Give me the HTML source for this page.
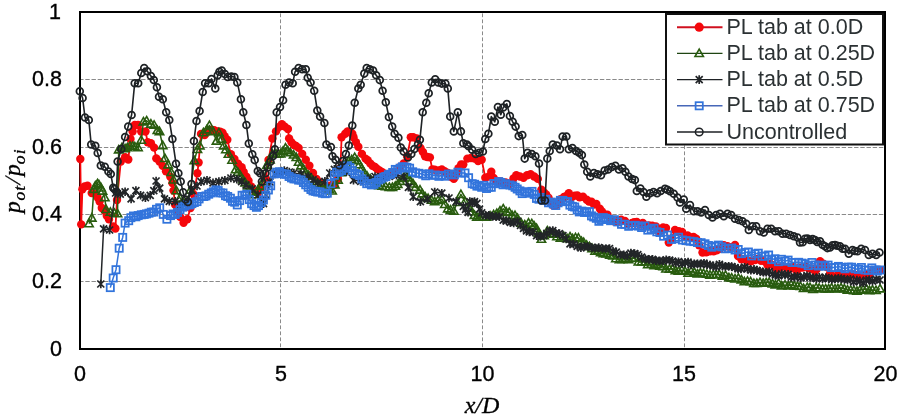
<!DOCTYPE html>
<html><head><meta charset="utf-8"><title>Chart</title>
<style>html,body{margin:0;padding:0;background:#fff;width:900px;height:419px;overflow:hidden}svg{display:block}</style>
</head><body>
<svg width="900" height="419" viewBox="0 0 900 419">
<defs>
<circle id="mr" r="4.2" fill="#f5070b"/>
<path id="mg" d="M0,-4.3L4.2,3.1H-4.2Z" fill="none" stroke="#295c0f" stroke-width="1.6" stroke-linejoin="miter"/>
<path id="ms" d="M-3.5,-3.5L3.5,3.5M-3.5,3.5L3.5,-3.5M0,-4.3V4.3" fill="none" stroke="#222528" stroke-width="1.7"/>
<rect id="mb" x="-3.6" y="-3.6" width="7.2" height="7.2" fill="none" stroke="#3274dc" stroke-width="1.75"/>
<circle id="mu" r="3.4" fill="none" stroke="#1e2225" stroke-width="1.75"/>
</defs>
<rect width="900" height="419" fill="#fff"/>
<g stroke="#8a8a8a" stroke-width="1"><line x1="81" y1="79.5" x2="884" y2="79.5" stroke-dasharray="4.4 1.8" stroke-dashoffset="1.9"/><line x1="81" y1="147.5" x2="884" y2="147.5" stroke-dasharray="4.4 1.8" stroke-dashoffset="1.9"/><line x1="81" y1="214.5" x2="884" y2="214.5" stroke-dasharray="4.4 1.8" stroke-dashoffset="1.9"/><line x1="81" y1="281.5" x2="884" y2="281.5" stroke-dasharray="4.4 1.8" stroke-dashoffset="1.9"/><line x1="280.5" y1="13.4" x2="280.5" y2="348" stroke-dasharray="3.8 2.2"/><line x1="482.5" y1="13.4" x2="482.5" y2="348" stroke-dasharray="3.8 2.2"/><line x1="684.5" y1="13.4" x2="684.5" y2="348" stroke-dasharray="3.8 2.2"/></g>
<rect x="80" y="12" width="805" height="337" fill="none" stroke="#000" stroke-width="2"/>
<g><g><polyline points="80.3,159 81.2,224.4 82.4,189.3 84.6,186.5 87.5,185.7 91.7,193 94.6,193.6 97.5,197.2 99.6,201.5 101.8,208 104.7,210.8 106.8,215.8 109,219.4 113.2,226.5 115.4,228.5 117,200 120.8,161.6 125.1,157.2 128.3,159.5 130.5,139 132.6,131.5 134.8,125 138,125 141.2,131.5 145.5,131.5 147.7,142.3 150.9,143.3 154.1,147.6 156.3,158.4 159.5,161.6 162.7,165.9 166,171.3 170.3,176.7 172.4,183.1 173.5,190.6 175.2,204.9 177.5,210.2 180,216.8 183.6,222.8 187.2,219.2 190.5,208 193.9,194.7 197.4,173.2 198.6,162.5 201,133.9 204.6,135.1 208.2,131.5 211.3,130 214.2,130.3 217.7,131.5 220.1,131.8 222.5,132.7 224.6,136.3 227.3,139.8 230.9,154.2 234.4,158.9 238,163.7 241.6,167.3 243.7,171.9 246.4,176.8 248.5,180.8 251.1,186.4 254.7,191.1 258.3,192.3 262,188 265.9,178.6 268.5,160 272.4,138.5 276,131.4 279.5,126.6 281.9,124.2 284.8,126.6 287.9,129 289.1,138.4 291.5,142.4 293.9,145 296,145.9 298.6,147.9 302.2,153.9 305.8,159.8 309.4,165.8 313,173 316.5,178.9 320.1,182.5 322.6,185.1 325,186 327.4,185.8 329.7,186.1 332.3,184.6 334.4,184.9 338,178.9 340.4,168.2 341.6,137.2 345.2,133.8 347.6,131.4 350.2,132.2 352.3,133.8 353.5,137.3 355.9,142.1 358.3,146.7 361.9,153.9 365.5,158.6 367.6,160.2 370.2,163.4 372.5,165.8 375,167 377.2,169 379.8,170.6 382.3,172.1 384.6,174.2 389,175 392.5,172.6 396,172 399.6,167.1 403.7,163.4 407.2,156.3 410.8,137.2 413.2,137.3 416.8,138.5 420.4,148 422.9,152 425.1,156.3 427.4,157 429.9,157.4 432.3,169.4 434.7,169.6 437.1,170.6 439.6,170.4 441.8,169.4 444.6,171.3 447.8,173 450.8,176.7 453.8,178.9 456.3,173.1 458.5,168.2 461.2,164.4 463.3,164.6 467.4,158.6 471,158 474.5,158.6 478.1,161 481.7,159.8 485.3,177.7 488.9,176.5 491.3,171.8 493.6,177.9 496,181.3 498.2,181.3 500.8,181.5 502.9,182.9 505.6,182.5 508.1,183.5 510.3,183.7 513.5,178.5 516.3,175.3 519.9,176.5 523.5,177.7 527.1,175.3 530.6,174.2 534.2,176.5 537.8,178.9 541.4,189.7 543.9,192.5 546.1,194.4 548.5,197.8 550.9,201.6 553.5,205.7 555.7,205.2 558.1,203.1 560.5,199.2 564,197 566.1,196.1 568.8,193.2 571.9,197 574.8,195.6 577.4,195.4 579.6,197.4 583,196.8 586.7,199.8 589,201.6 591.5,201.6 593.9,204.5 596.3,204 599.8,208.8 601.9,211.5 604.6,214.5 607.4,214.8 610.6,219 613.9,221.4 617.7,221 621.1,219.7 624.9,221 628.4,223.9 632.1,223 634.2,222.2 636.8,222 639.8,224.5 642.8,223 646,226.1 648.8,225.5 652.2,225.6 655.9,226.5 659,232 663.1,227.5 666,228 668.8,242.5 671.8,238.2 675,230 678.8,231.2 682.1,231.9 685,236.2 687.6,235.5 690.5,237.4 693.5,236.9 696.2,238.8 699.1,245.2 702.5,252.5 706.2,252.2 710,251.2 713.6,251.4 716.7,250.2 720,248.8 723.9,245.2 727.5,246.2 731.5,247.1 735,245 738,256 741.4,259.3 744.3,259 747.5,261.2 751,261.3 755,260 757.9,259 761.1,260.7 764.3,261.4 767.5,265 770.3,263.8 773.5,265.5 776.6,268.8 780,267.5 783.4,266.1 786.5,267.5 790,268.8 793,266.5 796.5,270.7 799.4,267.7 802.5,267.5 805.4,266.4 808.7,268.2 812.1,268.6 815,271.2 817.2,268.6 820,261.2 823.4,263.6 826.7,267.1 830,273.8 833.4,276.7 836.9,275.6 840,275 842.9,274.3 845.8,276.4 849,276.5 851.9,273.6 855,275 858.2,277.3 861.2,276.1 864.2,275.5 866.8,274.1 870,273.8 873.2,270.1 876.4,270.1 880,270" fill="none" stroke="#f5070b" stroke-width="1.8" stroke-linejoin="round"/><use href="#mr" x="80.3" y="159"/><use href="#mr" x="81.2" y="224.4"/><use href="#mr" x="82.4" y="189.3"/><use href="#mr" x="84.6" y="186.5"/><use href="#mr" x="87.5" y="185.7"/><use href="#mr" x="91.7" y="193"/><use href="#mr" x="94.6" y="193.6"/><use href="#mr" x="97.5" y="197.2"/><use href="#mr" x="99.6" y="201.5"/><use href="#mr" x="101.8" y="208"/><use href="#mr" x="104.7" y="210.8"/><use href="#mr" x="106.8" y="215.8"/><use href="#mr" x="109" y="219.4"/><use href="#mr" x="113.2" y="226.5"/><use href="#mr" x="115.4" y="228.5"/><use href="#mr" x="117" y="200"/><use href="#mr" x="120.8" y="161.6"/><use href="#mr" x="125.1" y="157.2"/><use href="#mr" x="128.3" y="159.5"/><use href="#mr" x="130.5" y="139"/><use href="#mr" x="132.6" y="131.5"/><use href="#mr" x="134.8" y="125"/><use href="#mr" x="138" y="125"/><use href="#mr" x="141.2" y="131.5"/><use href="#mr" x="145.5" y="131.5"/><use href="#mr" x="147.7" y="142.3"/><use href="#mr" x="150.9" y="143.3"/><use href="#mr" x="154.1" y="147.6"/><use href="#mr" x="156.3" y="158.4"/><use href="#mr" x="159.5" y="161.6"/><use href="#mr" x="162.7" y="165.9"/><use href="#mr" x="166" y="171.3"/><use href="#mr" x="170.3" y="176.7"/><use href="#mr" x="172.4" y="183.1"/><use href="#mr" x="173.5" y="190.6"/><use href="#mr" x="175.2" y="204.9"/><use href="#mr" x="177.5" y="210.2"/><use href="#mr" x="180" y="216.8"/><use href="#mr" x="183.6" y="222.8"/><use href="#mr" x="187.2" y="219.2"/><use href="#mr" x="190.5" y="208"/><use href="#mr" x="193.9" y="194.7"/><use href="#mr" x="197.4" y="173.2"/><use href="#mr" x="198.6" y="162.5"/><use href="#mr" x="201" y="133.9"/><use href="#mr" x="204.6" y="135.1"/><use href="#mr" x="208.2" y="131.5"/><use href="#mr" x="211.3" y="130"/><use href="#mr" x="214.2" y="130.3"/><use href="#mr" x="217.7" y="131.5"/><use href="#mr" x="220.1" y="131.8"/><use href="#mr" x="222.5" y="132.7"/><use href="#mr" x="224.6" y="136.3"/><use href="#mr" x="227.3" y="139.8"/><use href="#mr" x="230.9" y="154.2"/><use href="#mr" x="234.4" y="158.9"/><use href="#mr" x="238" y="163.7"/><use href="#mr" x="241.6" y="167.3"/><use href="#mr" x="243.7" y="171.9"/><use href="#mr" x="246.4" y="176.8"/><use href="#mr" x="248.5" y="180.8"/><use href="#mr" x="251.1" y="186.4"/><use href="#mr" x="254.7" y="191.1"/><use href="#mr" x="258.3" y="192.3"/><use href="#mr" x="262" y="188"/><use href="#mr" x="265.9" y="178.6"/><use href="#mr" x="268.5" y="160"/><use href="#mr" x="272.4" y="138.5"/><use href="#mr" x="276" y="131.4"/><use href="#mr" x="279.5" y="126.6"/><use href="#mr" x="281.9" y="124.2"/><use href="#mr" x="284.8" y="126.6"/><use href="#mr" x="287.9" y="129"/><use href="#mr" x="289.1" y="138.4"/><use href="#mr" x="291.5" y="142.4"/><use href="#mr" x="293.9" y="145"/><use href="#mr" x="296" y="145.9"/><use href="#mr" x="298.6" y="147.9"/><use href="#mr" x="302.2" y="153.9"/><use href="#mr" x="305.8" y="159.8"/><use href="#mr" x="309.4" y="165.8"/><use href="#mr" x="313" y="173"/><use href="#mr" x="316.5" y="178.9"/><use href="#mr" x="320.1" y="182.5"/><use href="#mr" x="322.6" y="185.1"/><use href="#mr" x="325" y="186"/><use href="#mr" x="327.4" y="185.8"/><use href="#mr" x="329.7" y="186.1"/><use href="#mr" x="332.3" y="184.6"/><use href="#mr" x="334.4" y="184.9"/><use href="#mr" x="338" y="178.9"/><use href="#mr" x="340.4" y="168.2"/><use href="#mr" x="341.6" y="137.2"/><use href="#mr" x="345.2" y="133.8"/><use href="#mr" x="347.6" y="131.4"/><use href="#mr" x="350.2" y="132.2"/><use href="#mr" x="352.3" y="133.8"/><use href="#mr" x="353.5" y="137.3"/><use href="#mr" x="355.9" y="142.1"/><use href="#mr" x="358.3" y="146.7"/><use href="#mr" x="361.9" y="153.9"/><use href="#mr" x="365.5" y="158.6"/><use href="#mr" x="367.6" y="160.2"/><use href="#mr" x="370.2" y="163.4"/><use href="#mr" x="372.5" y="165.8"/><use href="#mr" x="375" y="167"/><use href="#mr" x="377.2" y="169"/><use href="#mr" x="379.8" y="170.6"/><use href="#mr" x="382.3" y="172.1"/><use href="#mr" x="384.6" y="174.2"/><use href="#mr" x="389" y="175"/><use href="#mr" x="392.5" y="172.6"/><use href="#mr" x="396" y="172"/><use href="#mr" x="399.6" y="167.1"/><use href="#mr" x="403.7" y="163.4"/><use href="#mr" x="407.2" y="156.3"/><use href="#mr" x="410.8" y="137.2"/><use href="#mr" x="413.2" y="137.3"/><use href="#mr" x="416.8" y="138.5"/><use href="#mr" x="420.4" y="148"/><use href="#mr" x="422.9" y="152"/><use href="#mr" x="425.1" y="156.3"/><use href="#mr" x="427.4" y="157"/><use href="#mr" x="429.9" y="157.4"/><use href="#mr" x="432.3" y="169.4"/><use href="#mr" x="434.7" y="169.6"/><use href="#mr" x="437.1" y="170.6"/><use href="#mr" x="439.6" y="170.4"/><use href="#mr" x="441.8" y="169.4"/><use href="#mr" x="444.6" y="171.3"/><use href="#mr" x="447.8" y="173"/><use href="#mr" x="450.8" y="176.7"/><use href="#mr" x="453.8" y="178.9"/><use href="#mr" x="456.3" y="173.1"/><use href="#mr" x="458.5" y="168.2"/><use href="#mr" x="461.2" y="164.4"/><use href="#mr" x="463.3" y="164.6"/><use href="#mr" x="467.4" y="158.6"/><use href="#mr" x="471" y="158"/><use href="#mr" x="474.5" y="158.6"/><use href="#mr" x="478.1" y="161"/><use href="#mr" x="481.7" y="159.8"/><use href="#mr" x="485.3" y="177.7"/><use href="#mr" x="488.9" y="176.5"/><use href="#mr" x="491.3" y="171.8"/><use href="#mr" x="493.6" y="177.9"/><use href="#mr" x="496" y="181.3"/><use href="#mr" x="498.2" y="181.3"/><use href="#mr" x="500.8" y="181.5"/><use href="#mr" x="502.9" y="182.9"/><use href="#mr" x="505.6" y="182.5"/><use href="#mr" x="508.1" y="183.5"/><use href="#mr" x="510.3" y="183.7"/><use href="#mr" x="513.5" y="178.5"/><use href="#mr" x="516.3" y="175.3"/><use href="#mr" x="519.9" y="176.5"/><use href="#mr" x="523.5" y="177.7"/><use href="#mr" x="527.1" y="175.3"/><use href="#mr" x="530.6" y="174.2"/><use href="#mr" x="534.2" y="176.5"/><use href="#mr" x="537.8" y="178.9"/><use href="#mr" x="541.4" y="189.7"/><use href="#mr" x="543.9" y="192.5"/><use href="#mr" x="546.1" y="194.4"/><use href="#mr" x="548.5" y="197.8"/><use href="#mr" x="550.9" y="201.6"/><use href="#mr" x="553.5" y="205.7"/><use href="#mr" x="555.7" y="205.2"/><use href="#mr" x="558.1" y="203.1"/><use href="#mr" x="560.5" y="199.2"/><use href="#mr" x="564" y="197"/><use href="#mr" x="566.1" y="196.1"/><use href="#mr" x="568.8" y="193.2"/><use href="#mr" x="571.9" y="197"/><use href="#mr" x="574.8" y="195.6"/><use href="#mr" x="577.4" y="195.4"/><use href="#mr" x="579.6" y="197.4"/><use href="#mr" x="583" y="196.8"/><use href="#mr" x="586.7" y="199.8"/><use href="#mr" x="589" y="201.6"/><use href="#mr" x="591.5" y="201.6"/><use href="#mr" x="593.9" y="204.5"/><use href="#mr" x="596.3" y="204"/><use href="#mr" x="599.8" y="208.8"/><use href="#mr" x="601.9" y="211.5"/><use href="#mr" x="604.6" y="214.5"/><use href="#mr" x="607.4" y="214.8"/><use href="#mr" x="610.6" y="219"/><use href="#mr" x="613.9" y="221.4"/><use href="#mr" x="617.7" y="221"/><use href="#mr" x="621.1" y="219.7"/><use href="#mr" x="624.9" y="221"/><use href="#mr" x="628.4" y="223.9"/><use href="#mr" x="632.1" y="223"/><use href="#mr" x="634.2" y="222.2"/><use href="#mr" x="636.8" y="222"/><use href="#mr" x="639.8" y="224.5"/><use href="#mr" x="642.8" y="223"/><use href="#mr" x="646" y="226.1"/><use href="#mr" x="648.8" y="225.5"/><use href="#mr" x="652.2" y="225.6"/><use href="#mr" x="655.9" y="226.5"/><use href="#mr" x="659" y="232"/><use href="#mr" x="663.1" y="227.5"/><use href="#mr" x="666" y="228"/><use href="#mr" x="668.8" y="242.5"/><use href="#mr" x="671.8" y="238.2"/><use href="#mr" x="675" y="230"/><use href="#mr" x="678.8" y="231.2"/><use href="#mr" x="682.1" y="231.9"/><use href="#mr" x="685" y="236.2"/><use href="#mr" x="687.6" y="235.5"/><use href="#mr" x="690.5" y="237.4"/><use href="#mr" x="693.5" y="236.9"/><use href="#mr" x="696.2" y="238.8"/><use href="#mr" x="699.1" y="245.2"/><use href="#mr" x="702.5" y="252.5"/><use href="#mr" x="706.2" y="252.2"/><use href="#mr" x="710" y="251.2"/><use href="#mr" x="713.6" y="251.4"/><use href="#mr" x="716.7" y="250.2"/><use href="#mr" x="720" y="248.8"/><use href="#mr" x="723.9" y="245.2"/><use href="#mr" x="727.5" y="246.2"/><use href="#mr" x="731.5" y="247.1"/><use href="#mr" x="735" y="245"/><use href="#mr" x="738" y="256"/><use href="#mr" x="741.4" y="259.3"/><use href="#mr" x="744.3" y="259"/><use href="#mr" x="747.5" y="261.2"/><use href="#mr" x="751" y="261.3"/><use href="#mr" x="755" y="260"/><use href="#mr" x="757.9" y="259"/><use href="#mr" x="761.1" y="260.7"/><use href="#mr" x="764.3" y="261.4"/><use href="#mr" x="767.5" y="265"/><use href="#mr" x="770.3" y="263.8"/><use href="#mr" x="773.5" y="265.5"/><use href="#mr" x="776.6" y="268.8"/><use href="#mr" x="780" y="267.5"/><use href="#mr" x="783.4" y="266.1"/><use href="#mr" x="786.5" y="267.5"/><use href="#mr" x="790" y="268.8"/><use href="#mr" x="793" y="266.5"/><use href="#mr" x="796.5" y="270.7"/><use href="#mr" x="799.4" y="267.7"/><use href="#mr" x="802.5" y="267.5"/><use href="#mr" x="805.4" y="266.4"/><use href="#mr" x="808.7" y="268.2"/><use href="#mr" x="812.1" y="268.6"/><use href="#mr" x="815" y="271.2"/><use href="#mr" x="817.2" y="268.6"/><use href="#mr" x="820" y="261.2"/><use href="#mr" x="823.4" y="263.6"/><use href="#mr" x="826.7" y="267.1"/><use href="#mr" x="830" y="273.8"/><use href="#mr" x="833.4" y="276.7"/><use href="#mr" x="836.9" y="275.6"/><use href="#mr" x="840" y="275"/><use href="#mr" x="842.9" y="274.3"/><use href="#mr" x="845.8" y="276.4"/><use href="#mr" x="849" y="276.5"/><use href="#mr" x="851.9" y="273.6"/><use href="#mr" x="855" y="275"/><use href="#mr" x="858.2" y="277.3"/><use href="#mr" x="861.2" y="276.1"/><use href="#mr" x="864.2" y="275.5"/><use href="#mr" x="866.8" y="274.1"/><use href="#mr" x="870" y="273.8"/><use href="#mr" x="873.2" y="270.1"/><use href="#mr" x="876.4" y="270.1"/><use href="#mr" x="880" y="270"/></g><g><polyline points="89,223.7 91.8,218 93.9,189.3 95.3,185.8 97.5,183.6 98.9,184.6 101.1,187.9 102.5,191 104.8,197.7 106.1,209.4 110.4,212.2 114.4,213.2 117.5,213.7 118.7,149.8 121.9,147.6 125.1,148.7 127.4,147.6 130,146 132.7,146.2 134.8,146.6 138,147.6 141.2,140.1 143.4,121.8 146.6,120.8 150.9,124 154.1,125.1 157.4,130.4 159.5,131.5 162.7,145.5 164.9,158.4 168.1,164.8 171.3,172.4 173.5,179.9 176.4,190.6 180,198 183,202 187.2,201.3 190.5,190 194.3,160.7 197.4,149.4 199.8,145.8 203.4,132.7 206.7,129.8 209.4,125.5 213,131.5 216.5,141 218.9,132.7 221.6,139.1 223.7,145.8 225.9,149.6 228.5,154.2 232.1,160.1 235.6,169.7 237.8,172.2 240.4,175.6 242.9,179.8 245.2,182.8 247.8,185.8 250,188.8 252.4,192.2 254.7,194.7 258,190 260.3,186 263.1,181.6 267,165 269.9,159.8 272.4,153.9 276,154 278.5,153.9 280.7,153.9 282.9,151.3 285.5,147.9 287.8,150.7 290.3,152.7 293.6,154.9 296.3,157.4 298.6,162.2 301,165.8 303.5,168.9 305.8,173 308.6,175.5 311.8,178.9 315,181.7 317.7,183.7 320.6,185.3 324,186 327,187.9 329.3,189.3 332.1,190.9 334.8,184.8 338,180 341.3,172.7 344,165 346.4,163.6 348.8,161 351.7,159.7 354.7,157.4 357.3,160.6 359.5,164.6 361.8,168.5 364.3,173 367.1,176.1 370.2,178.9 373.1,181.2 376.2,183.7 379,185.5 382.2,186.1 385.7,186.6 389.3,187.3 392.4,187.3 395.3,186.1 397.7,184.3 400.1,181.3 403.1,178.3 406,175.3 408.4,177.6 410.8,181.3 413.2,183.9 415.6,187.3 420,190 422.3,193.8 425.1,196.8 428.1,198.4 431.6,200.1 434.7,201.6 438.1,200.4 441.8,199.2 444.8,204.4 447.8,208.8 450.6,210 453.8,211.1 457.2,202.4 460.9,194.4 465,201.6 469,208 471.9,211.7 474.5,215.3 476.9,217 479.3,217.1 483.1,216.9 486.5,217.1 490.1,215.9 493.6,214.7 496.8,213.4 500,210.9 503.2,208.8 506.2,212 509.2,212.3 512.1,215.5 515,215.5 517.5,218.3 521.1,223 524.7,224.8 528.5,223 531.8,223.6 534,225.8 536.6,228.4 538.7,233 541.4,239.2 544.1,235.5 547.3,230.8 550.8,233.7 554,234 557,236.7 560.5,238 563.8,236.5 567.1,238.7 570,236.8 572.6,238.6 575.5,237.6 578.4,238 581.5,241.4 583.7,242.5 586.7,245.1 589.5,246.6 592.1,248.5 595.1,251.1 598,250.4 600.7,252.5 603.4,253.5 606.3,253.8 609.9,255.1 613,255.9 615.9,258.6 619.5,259.7 622.5,259.4 625.5,258.2 628.6,259.5 632.1,258.2 635.1,258.2 638.4,261.9 641.6,261.8 645,261.8 647.8,264.7 651.2,264.2 654.2,265.5 656.8,264.2 660,266.2 663.2,266.6 666,268.9 669.5,269.1 672.5,268.8 675.4,270.5 678.5,271.2 681.8,270.1 685,271.2 688.2,273.2 691.1,271.3 694.4,272.3 697.5,273.8 700.4,273 703.5,273.4 706.8,274.1 710,275 713.3,274.6 716.3,274.6 719.3,274.4 722.5,276.2 725.5,275.3 728.9,277.7 731.7,278 735,278.8 738.4,278.1 741.4,279.8 744.4,281.7 747.5,281.2 750.6,281.6 753.9,283.4 756.8,283.3 760,282.5 763.2,283.2 766.2,282.6 769.1,282.3 772.5,283.8 775.4,284.8 778.6,283.3 781.6,285.8 785,285 788.3,285.9 791.1,284.8 794.3,285.8 797.5,286.2 800.4,286.4 803.6,288.4 807.2,287.3 810,287.5 813,289.3 816.1,287.7 819.1,288.1 822.5,288.8 825.6,288.8 828.6,288.8 831.6,288 835,288.8 837.9,288.7 841,287.8 844.3,288.8 847.5,290 850.7,290.1 853.9,290.5 857,291.2 860,290 863.1,289.4 866.5,288.9 869.5,290.5 872.5,290 876,290.4 880,288.8" fill="none" stroke="#295c0f" stroke-width="1.5" stroke-linejoin="round"/><use href="#mg" x="89" y="223.7"/><use href="#mg" x="91.8" y="218"/><use href="#mg" x="93.9" y="189.3"/><use href="#mg" x="95.3" y="185.8"/><use href="#mg" x="97.5" y="183.6"/><use href="#mg" x="98.9" y="184.6"/><use href="#mg" x="101.1" y="187.9"/><use href="#mg" x="102.5" y="191"/><use href="#mg" x="104.8" y="197.7"/><use href="#mg" x="106.1" y="209.4"/><use href="#mg" x="110.4" y="212.2"/><use href="#mg" x="114.4" y="213.2"/><use href="#mg" x="117.5" y="213.7"/><use href="#mg" x="118.7" y="149.8"/><use href="#mg" x="121.9" y="147.6"/><use href="#mg" x="125.1" y="148.7"/><use href="#mg" x="127.4" y="147.6"/><use href="#mg" x="130" y="146"/><use href="#mg" x="132.7" y="146.2"/><use href="#mg" x="134.8" y="146.6"/><use href="#mg" x="138" y="147.6"/><use href="#mg" x="141.2" y="140.1"/><use href="#mg" x="143.4" y="121.8"/><use href="#mg" x="146.6" y="120.8"/><use href="#mg" x="150.9" y="124"/><use href="#mg" x="154.1" y="125.1"/><use href="#mg" x="157.4" y="130.4"/><use href="#mg" x="159.5" y="131.5"/><use href="#mg" x="162.7" y="145.5"/><use href="#mg" x="164.9" y="158.4"/><use href="#mg" x="168.1" y="164.8"/><use href="#mg" x="171.3" y="172.4"/><use href="#mg" x="173.5" y="179.9"/><use href="#mg" x="176.4" y="190.6"/><use href="#mg" x="180" y="198"/><use href="#mg" x="183" y="202"/><use href="#mg" x="187.2" y="201.3"/><use href="#mg" x="190.5" y="190"/><use href="#mg" x="194.3" y="160.7"/><use href="#mg" x="197.4" y="149.4"/><use href="#mg" x="199.8" y="145.8"/><use href="#mg" x="203.4" y="132.7"/><use href="#mg" x="206.7" y="129.8"/><use href="#mg" x="209.4" y="125.5"/><use href="#mg" x="213" y="131.5"/><use href="#mg" x="216.5" y="141"/><use href="#mg" x="218.9" y="132.7"/><use href="#mg" x="221.6" y="139.1"/><use href="#mg" x="223.7" y="145.8"/><use href="#mg" x="225.9" y="149.6"/><use href="#mg" x="228.5" y="154.2"/><use href="#mg" x="232.1" y="160.1"/><use href="#mg" x="235.6" y="169.7"/><use href="#mg" x="237.8" y="172.2"/><use href="#mg" x="240.4" y="175.6"/><use href="#mg" x="242.9" y="179.8"/><use href="#mg" x="245.2" y="182.8"/><use href="#mg" x="247.8" y="185.8"/><use href="#mg" x="250" y="188.8"/><use href="#mg" x="252.4" y="192.2"/><use href="#mg" x="254.7" y="194.7"/><use href="#mg" x="258" y="190"/><use href="#mg" x="260.3" y="186"/><use href="#mg" x="263.1" y="181.6"/><use href="#mg" x="267" y="165"/><use href="#mg" x="269.9" y="159.8"/><use href="#mg" x="272.4" y="153.9"/><use href="#mg" x="276" y="154"/><use href="#mg" x="278.5" y="153.9"/><use href="#mg" x="280.7" y="153.9"/><use href="#mg" x="282.9" y="151.3"/><use href="#mg" x="285.5" y="147.9"/><use href="#mg" x="287.8" y="150.7"/><use href="#mg" x="290.3" y="152.7"/><use href="#mg" x="293.6" y="154.9"/><use href="#mg" x="296.3" y="157.4"/><use href="#mg" x="298.6" y="162.2"/><use href="#mg" x="301" y="165.8"/><use href="#mg" x="303.5" y="168.9"/><use href="#mg" x="305.8" y="173"/><use href="#mg" x="308.6" y="175.5"/><use href="#mg" x="311.8" y="178.9"/><use href="#mg" x="315" y="181.7"/><use href="#mg" x="317.7" y="183.7"/><use href="#mg" x="320.6" y="185.3"/><use href="#mg" x="324" y="186"/><use href="#mg" x="327" y="187.9"/><use href="#mg" x="329.3" y="189.3"/><use href="#mg" x="332.1" y="190.9"/><use href="#mg" x="334.8" y="184.8"/><use href="#mg" x="338" y="180"/><use href="#mg" x="341.3" y="172.7"/><use href="#mg" x="344" y="165"/><use href="#mg" x="346.4" y="163.6"/><use href="#mg" x="348.8" y="161"/><use href="#mg" x="351.7" y="159.7"/><use href="#mg" x="354.7" y="157.4"/><use href="#mg" x="357.3" y="160.6"/><use href="#mg" x="359.5" y="164.6"/><use href="#mg" x="361.8" y="168.5"/><use href="#mg" x="364.3" y="173"/><use href="#mg" x="367.1" y="176.1"/><use href="#mg" x="370.2" y="178.9"/><use href="#mg" x="373.1" y="181.2"/><use href="#mg" x="376.2" y="183.7"/><use href="#mg" x="379" y="185.5"/><use href="#mg" x="382.2" y="186.1"/><use href="#mg" x="385.7" y="186.6"/><use href="#mg" x="389.3" y="187.3"/><use href="#mg" x="392.4" y="187.3"/><use href="#mg" x="395.3" y="186.1"/><use href="#mg" x="397.7" y="184.3"/><use href="#mg" x="400.1" y="181.3"/><use href="#mg" x="403.1" y="178.3"/><use href="#mg" x="406" y="175.3"/><use href="#mg" x="408.4" y="177.6"/><use href="#mg" x="410.8" y="181.3"/><use href="#mg" x="413.2" y="183.9"/><use href="#mg" x="415.6" y="187.3"/><use href="#mg" x="420" y="190"/><use href="#mg" x="422.3" y="193.8"/><use href="#mg" x="425.1" y="196.8"/><use href="#mg" x="428.1" y="198.4"/><use href="#mg" x="431.6" y="200.1"/><use href="#mg" x="434.7" y="201.6"/><use href="#mg" x="438.1" y="200.4"/><use href="#mg" x="441.8" y="199.2"/><use href="#mg" x="444.8" y="204.4"/><use href="#mg" x="447.8" y="208.8"/><use href="#mg" x="450.6" y="210"/><use href="#mg" x="453.8" y="211.1"/><use href="#mg" x="457.2" y="202.4"/><use href="#mg" x="460.9" y="194.4"/><use href="#mg" x="465" y="201.6"/><use href="#mg" x="469" y="208"/><use href="#mg" x="471.9" y="211.7"/><use href="#mg" x="474.5" y="215.3"/><use href="#mg" x="476.9" y="217"/><use href="#mg" x="479.3" y="217.1"/><use href="#mg" x="483.1" y="216.9"/><use href="#mg" x="486.5" y="217.1"/><use href="#mg" x="490.1" y="215.9"/><use href="#mg" x="493.6" y="214.7"/><use href="#mg" x="496.8" y="213.4"/><use href="#mg" x="500" y="210.9"/><use href="#mg" x="503.2" y="208.8"/><use href="#mg" x="506.2" y="212"/><use href="#mg" x="509.2" y="212.3"/><use href="#mg" x="512.1" y="215.5"/><use href="#mg" x="515" y="215.5"/><use href="#mg" x="517.5" y="218.3"/><use href="#mg" x="521.1" y="223"/><use href="#mg" x="524.7" y="224.8"/><use href="#mg" x="528.5" y="223"/><use href="#mg" x="531.8" y="223.6"/><use href="#mg" x="534" y="225.8"/><use href="#mg" x="536.6" y="228.4"/><use href="#mg" x="538.7" y="233"/><use href="#mg" x="541.4" y="239.2"/><use href="#mg" x="544.1" y="235.5"/><use href="#mg" x="547.3" y="230.8"/><use href="#mg" x="550.8" y="233.7"/><use href="#mg" x="554" y="234"/><use href="#mg" x="557" y="236.7"/><use href="#mg" x="560.5" y="238"/><use href="#mg" x="563.8" y="236.5"/><use href="#mg" x="567.1" y="238.7"/><use href="#mg" x="570" y="236.8"/><use href="#mg" x="572.6" y="238.6"/><use href="#mg" x="575.5" y="237.6"/><use href="#mg" x="578.4" y="238"/><use href="#mg" x="581.5" y="241.4"/><use href="#mg" x="583.7" y="242.5"/><use href="#mg" x="586.7" y="245.1"/><use href="#mg" x="589.5" y="246.6"/><use href="#mg" x="592.1" y="248.5"/><use href="#mg" x="595.1" y="251.1"/><use href="#mg" x="598" y="250.4"/><use href="#mg" x="600.7" y="252.5"/><use href="#mg" x="603.4" y="253.5"/><use href="#mg" x="606.3" y="253.8"/><use href="#mg" x="609.9" y="255.1"/><use href="#mg" x="613" y="255.9"/><use href="#mg" x="615.9" y="258.6"/><use href="#mg" x="619.5" y="259.7"/><use href="#mg" x="622.5" y="259.4"/><use href="#mg" x="625.5" y="258.2"/><use href="#mg" x="628.6" y="259.5"/><use href="#mg" x="632.1" y="258.2"/><use href="#mg" x="635.1" y="258.2"/><use href="#mg" x="638.4" y="261.9"/><use href="#mg" x="641.6" y="261.8"/><use href="#mg" x="645" y="261.8"/><use href="#mg" x="647.8" y="264.7"/><use href="#mg" x="651.2" y="264.2"/><use href="#mg" x="654.2" y="265.5"/><use href="#mg" x="656.8" y="264.2"/><use href="#mg" x="660" y="266.2"/><use href="#mg" x="663.2" y="266.6"/><use href="#mg" x="666" y="268.9"/><use href="#mg" x="669.5" y="269.1"/><use href="#mg" x="672.5" y="268.8"/><use href="#mg" x="675.4" y="270.5"/><use href="#mg" x="678.5" y="271.2"/><use href="#mg" x="681.8" y="270.1"/><use href="#mg" x="685" y="271.2"/><use href="#mg" x="688.2" y="273.2"/><use href="#mg" x="691.1" y="271.3"/><use href="#mg" x="694.4" y="272.3"/><use href="#mg" x="697.5" y="273.8"/><use href="#mg" x="700.4" y="273"/><use href="#mg" x="703.5" y="273.4"/><use href="#mg" x="706.8" y="274.1"/><use href="#mg" x="710" y="275"/><use href="#mg" x="713.3" y="274.6"/><use href="#mg" x="716.3" y="274.6"/><use href="#mg" x="719.3" y="274.4"/><use href="#mg" x="722.5" y="276.2"/><use href="#mg" x="725.5" y="275.3"/><use href="#mg" x="728.9" y="277.7"/><use href="#mg" x="731.7" y="278"/><use href="#mg" x="735" y="278.8"/><use href="#mg" x="738.4" y="278.1"/><use href="#mg" x="741.4" y="279.8"/><use href="#mg" x="744.4" y="281.7"/><use href="#mg" x="747.5" y="281.2"/><use href="#mg" x="750.6" y="281.6"/><use href="#mg" x="753.9" y="283.4"/><use href="#mg" x="756.8" y="283.3"/><use href="#mg" x="760" y="282.5"/><use href="#mg" x="763.2" y="283.2"/><use href="#mg" x="766.2" y="282.6"/><use href="#mg" x="769.1" y="282.3"/><use href="#mg" x="772.5" y="283.8"/><use href="#mg" x="775.4" y="284.8"/><use href="#mg" x="778.6" y="283.3"/><use href="#mg" x="781.6" y="285.8"/><use href="#mg" x="785" y="285"/><use href="#mg" x="788.3" y="285.9"/><use href="#mg" x="791.1" y="284.8"/><use href="#mg" x="794.3" y="285.8"/><use href="#mg" x="797.5" y="286.2"/><use href="#mg" x="800.4" y="286.4"/><use href="#mg" x="803.6" y="288.4"/><use href="#mg" x="807.2" y="287.3"/><use href="#mg" x="810" y="287.5"/><use href="#mg" x="813" y="289.3"/><use href="#mg" x="816.1" y="287.7"/><use href="#mg" x="819.1" y="288.1"/><use href="#mg" x="822.5" y="288.8"/><use href="#mg" x="825.6" y="288.8"/><use href="#mg" x="828.6" y="288.8"/><use href="#mg" x="831.6" y="288"/><use href="#mg" x="835" y="288.8"/><use href="#mg" x="837.9" y="288.7"/><use href="#mg" x="841" y="287.8"/><use href="#mg" x="844.3" y="288.8"/><use href="#mg" x="847.5" y="290"/><use href="#mg" x="850.7" y="290.1"/><use href="#mg" x="853.9" y="290.5"/><use href="#mg" x="857" y="291.2"/><use href="#mg" x="860" y="290"/><use href="#mg" x="863.1" y="289.4"/><use href="#mg" x="866.5" y="288.9"/><use href="#mg" x="869.5" y="290.5"/><use href="#mg" x="872.5" y="290"/><use href="#mg" x="876" y="290.4"/><use href="#mg" x="880" y="288.8"/></g><g><polyline points="100.8,284 103.6,228.8 109.6,230 115.6,193 120.3,194.2 125.1,191.8 131.1,198.9 135.9,190.6 140.6,195.3 145.4,197.7 150.2,195.3 153.8,190.6 156.1,181 159.7,188.2 164.5,198.9 169.3,201.3 175.2,201.3 180,204.9 186,203.7 191.9,190.6 197,186 201,181.6 207,180.4 213,182.8 218.9,181.6 224.9,180.4 230.9,178 236.8,179.2 241.6,181.6 246,185 252.3,188.8 258,195 263.5,203.7 266,195 270,182 275,174 279,172 284.3,170.6 289.3,172 293.9,173 301,174.2 308.2,176.5 313.1,179.9 317.7,182.5 324.9,181.3 329.7,173 334.4,169.4 341.6,168.2 346.4,171.8 353.5,180.1 360.7,181.3 367.9,178.9 375,176.5 382.2,177.7 389.3,176.5 396.5,175.3 403.7,176.5 408.4,187.3 413.2,196.8 420.4,201.6 427.5,199.2 434.7,192 441.8,193.2 449,198 456.2,201.6 463.3,206.4 465.5,209.4 468.1,212.3 469.8,201.6 472.2,202.7 474.5,201.6 476.9,203.4 479.5,209.2 481.7,212.9 485.4,215.4 488.9,215.3 492.6,216.5 496,216.5 499.4,216.8 503.2,220.1 506.5,220.8 510.3,222.4 513.7,222.9 517.5,221.3 520.5,225.3 523.5,228.4 526.5,230.8 529.4,232 533,232.2 536.6,235.6 540.4,236.4 543.8,235.6 546.8,233.3 549.7,230.8 552.8,230.6 555.7,233.2 559.4,233.6 562.9,235.6 566.2,239 570,243.9 573.7,244.2 577.2,246.3 580.9,247.8 584.3,246.3 587.9,246.5 591.5,247.5 595.1,248.1 598.7,247.5 602.4,248.5 605.8,248.7 609.5,248.5 613,251.1 616.3,252.1 620.1,254.7 623.8,254.7 627.3,255.9 630.9,253.1 634.5,253.5 637.8,254.6 641.6,257.1 645.3,258.9 648.8,259.4 652.5,259.3 655.9,260.6 659.5,260.7 663.1,261 666.2,259.9 669.6,260.2 672.5,261.2 675.9,263 678.5,261.7 682.1,263.7 685,262.5 688.1,262.1 691.1,264.6 694.2,263.7 697.5,263.8 700.4,264.1 704,263.2 707.1,264.7 710,265 713.4,266 716.1,266.9 719.4,264.4 722.5,266.2 725.3,266.5 728.7,266.2 731.7,266.7 735,267.5 738,268.9 741,268.9 744.6,267.2 747.5,268.8 750.9,270.1 754,269.3 756.8,270.3 760,271.2 763.4,272.2 766.2,272.3 769.2,271.7 772.5,273.8 775.4,275.1 778.6,275.8 781.7,273.9 785,275 788.1,274.3 791.2,277.1 794.6,276.9 797.5,276.2 800.7,277.9 804,277 807,275.7 810,277.5 813.3,277.7 816.4,278.6 819.2,277 822.5,278.8 825.9,277.6 828.7,278.2 831.8,279.5 835,278.8 838.4,278.3 841.3,278.7 844.4,279.3 847.5,280 850.4,279.2 853.6,281.9 856.9,280 860,281.2 863.4,282.8 866.2,280.1 869.2,279.9 872.5,281.2 876.2,279.3 880,280" fill="none" stroke="#222528" stroke-width="1.5" stroke-linejoin="round"/><use href="#ms" x="100.8" y="284"/><use href="#ms" x="103.6" y="228.8"/><use href="#ms" x="109.6" y="230"/><use href="#ms" x="115.6" y="193"/><use href="#ms" x="120.3" y="194.2"/><use href="#ms" x="125.1" y="191.8"/><use href="#ms" x="131.1" y="198.9"/><use href="#ms" x="135.9" y="190.6"/><use href="#ms" x="140.6" y="195.3"/><use href="#ms" x="145.4" y="197.7"/><use href="#ms" x="150.2" y="195.3"/><use href="#ms" x="153.8" y="190.6"/><use href="#ms" x="156.1" y="181"/><use href="#ms" x="159.7" y="188.2"/><use href="#ms" x="164.5" y="198.9"/><use href="#ms" x="169.3" y="201.3"/><use href="#ms" x="175.2" y="201.3"/><use href="#ms" x="180" y="204.9"/><use href="#ms" x="186" y="203.7"/><use href="#ms" x="191.9" y="190.6"/><use href="#ms" x="197" y="186"/><use href="#ms" x="201" y="181.6"/><use href="#ms" x="207" y="180.4"/><use href="#ms" x="213" y="182.8"/><use href="#ms" x="218.9" y="181.6"/><use href="#ms" x="224.9" y="180.4"/><use href="#ms" x="230.9" y="178"/><use href="#ms" x="236.8" y="179.2"/><use href="#ms" x="241.6" y="181.6"/><use href="#ms" x="246" y="185"/><use href="#ms" x="252.3" y="188.8"/><use href="#ms" x="258" y="195"/><use href="#ms" x="263.5" y="203.7"/><use href="#ms" x="266" y="195"/><use href="#ms" x="270" y="182"/><use href="#ms" x="275" y="174"/><use href="#ms" x="279" y="172"/><use href="#ms" x="284.3" y="170.6"/><use href="#ms" x="289.3" y="172"/><use href="#ms" x="293.9" y="173"/><use href="#ms" x="301" y="174.2"/><use href="#ms" x="308.2" y="176.5"/><use href="#ms" x="313.1" y="179.9"/><use href="#ms" x="317.7" y="182.5"/><use href="#ms" x="324.9" y="181.3"/><use href="#ms" x="329.7" y="173"/><use href="#ms" x="334.4" y="169.4"/><use href="#ms" x="341.6" y="168.2"/><use href="#ms" x="346.4" y="171.8"/><use href="#ms" x="353.5" y="180.1"/><use href="#ms" x="360.7" y="181.3"/><use href="#ms" x="367.9" y="178.9"/><use href="#ms" x="375" y="176.5"/><use href="#ms" x="382.2" y="177.7"/><use href="#ms" x="389.3" y="176.5"/><use href="#ms" x="396.5" y="175.3"/><use href="#ms" x="403.7" y="176.5"/><use href="#ms" x="408.4" y="187.3"/><use href="#ms" x="413.2" y="196.8"/><use href="#ms" x="420.4" y="201.6"/><use href="#ms" x="427.5" y="199.2"/><use href="#ms" x="434.7" y="192"/><use href="#ms" x="441.8" y="193.2"/><use href="#ms" x="449" y="198"/><use href="#ms" x="456.2" y="201.6"/><use href="#ms" x="463.3" y="206.4"/><use href="#ms" x="465.5" y="209.4"/><use href="#ms" x="468.1" y="212.3"/><use href="#ms" x="469.8" y="201.6"/><use href="#ms" x="472.2" y="202.7"/><use href="#ms" x="474.5" y="201.6"/><use href="#ms" x="476.9" y="203.4"/><use href="#ms" x="479.5" y="209.2"/><use href="#ms" x="481.7" y="212.9"/><use href="#ms" x="485.4" y="215.4"/><use href="#ms" x="488.9" y="215.3"/><use href="#ms" x="492.6" y="216.5"/><use href="#ms" x="496" y="216.5"/><use href="#ms" x="499.4" y="216.8"/><use href="#ms" x="503.2" y="220.1"/><use href="#ms" x="506.5" y="220.8"/><use href="#ms" x="510.3" y="222.4"/><use href="#ms" x="513.7" y="222.9"/><use href="#ms" x="517.5" y="221.3"/><use href="#ms" x="520.5" y="225.3"/><use href="#ms" x="523.5" y="228.4"/><use href="#ms" x="526.5" y="230.8"/><use href="#ms" x="529.4" y="232"/><use href="#ms" x="533" y="232.2"/><use href="#ms" x="536.6" y="235.6"/><use href="#ms" x="540.4" y="236.4"/><use href="#ms" x="543.8" y="235.6"/><use href="#ms" x="546.8" y="233.3"/><use href="#ms" x="549.7" y="230.8"/><use href="#ms" x="552.8" y="230.6"/><use href="#ms" x="555.7" y="233.2"/><use href="#ms" x="559.4" y="233.6"/><use href="#ms" x="562.9" y="235.6"/><use href="#ms" x="566.2" y="239"/><use href="#ms" x="570" y="243.9"/><use href="#ms" x="573.7" y="244.2"/><use href="#ms" x="577.2" y="246.3"/><use href="#ms" x="580.9" y="247.8"/><use href="#ms" x="584.3" y="246.3"/><use href="#ms" x="587.9" y="246.5"/><use href="#ms" x="591.5" y="247.5"/><use href="#ms" x="595.1" y="248.1"/><use href="#ms" x="598.7" y="247.5"/><use href="#ms" x="602.4" y="248.5"/><use href="#ms" x="605.8" y="248.7"/><use href="#ms" x="609.5" y="248.5"/><use href="#ms" x="613" y="251.1"/><use href="#ms" x="616.3" y="252.1"/><use href="#ms" x="620.1" y="254.7"/><use href="#ms" x="623.8" y="254.7"/><use href="#ms" x="627.3" y="255.9"/><use href="#ms" x="630.9" y="253.1"/><use href="#ms" x="634.5" y="253.5"/><use href="#ms" x="637.8" y="254.6"/><use href="#ms" x="641.6" y="257.1"/><use href="#ms" x="645.3" y="258.9"/><use href="#ms" x="648.8" y="259.4"/><use href="#ms" x="652.5" y="259.3"/><use href="#ms" x="655.9" y="260.6"/><use href="#ms" x="659.5" y="260.7"/><use href="#ms" x="663.1" y="261"/><use href="#ms" x="666.2" y="259.9"/><use href="#ms" x="669.6" y="260.2"/><use href="#ms" x="672.5" y="261.2"/><use href="#ms" x="675.9" y="263"/><use href="#ms" x="678.5" y="261.7"/><use href="#ms" x="682.1" y="263.7"/><use href="#ms" x="685" y="262.5"/><use href="#ms" x="688.1" y="262.1"/><use href="#ms" x="691.1" y="264.6"/><use href="#ms" x="694.2" y="263.7"/><use href="#ms" x="697.5" y="263.8"/><use href="#ms" x="700.4" y="264.1"/><use href="#ms" x="704" y="263.2"/><use href="#ms" x="707.1" y="264.7"/><use href="#ms" x="710" y="265"/><use href="#ms" x="713.4" y="266"/><use href="#ms" x="716.1" y="266.9"/><use href="#ms" x="719.4" y="264.4"/><use href="#ms" x="722.5" y="266.2"/><use href="#ms" x="725.3" y="266.5"/><use href="#ms" x="728.7" y="266.2"/><use href="#ms" x="731.7" y="266.7"/><use href="#ms" x="735" y="267.5"/><use href="#ms" x="738" y="268.9"/><use href="#ms" x="741" y="268.9"/><use href="#ms" x="744.6" y="267.2"/><use href="#ms" x="747.5" y="268.8"/><use href="#ms" x="750.9" y="270.1"/><use href="#ms" x="754" y="269.3"/><use href="#ms" x="756.8" y="270.3"/><use href="#ms" x="760" y="271.2"/><use href="#ms" x="763.4" y="272.2"/><use href="#ms" x="766.2" y="272.3"/><use href="#ms" x="769.2" y="271.7"/><use href="#ms" x="772.5" y="273.8"/><use href="#ms" x="775.4" y="275.1"/><use href="#ms" x="778.6" y="275.8"/><use href="#ms" x="781.7" y="273.9"/><use href="#ms" x="785" y="275"/><use href="#ms" x="788.1" y="274.3"/><use href="#ms" x="791.2" y="277.1"/><use href="#ms" x="794.6" y="276.9"/><use href="#ms" x="797.5" y="276.2"/><use href="#ms" x="800.7" y="277.9"/><use href="#ms" x="804" y="277"/><use href="#ms" x="807" y="275.7"/><use href="#ms" x="810" y="277.5"/><use href="#ms" x="813.3" y="277.7"/><use href="#ms" x="816.4" y="278.6"/><use href="#ms" x="819.2" y="277"/><use href="#ms" x="822.5" y="278.8"/><use href="#ms" x="825.9" y="277.6"/><use href="#ms" x="828.7" y="278.2"/><use href="#ms" x="831.8" y="279.5"/><use href="#ms" x="835" y="278.8"/><use href="#ms" x="838.4" y="278.3"/><use href="#ms" x="841.3" y="278.7"/><use href="#ms" x="844.4" y="279.3"/><use href="#ms" x="847.5" y="280"/><use href="#ms" x="850.4" y="279.2"/><use href="#ms" x="853.6" y="281.9"/><use href="#ms" x="856.9" y="280"/><use href="#ms" x="860" y="281.2"/><use href="#ms" x="863.4" y="282.8"/><use href="#ms" x="866.2" y="280.1"/><use href="#ms" x="869.2" y="279.9"/><use href="#ms" x="872.5" y="281.2"/><use href="#ms" x="876.2" y="279.3"/><use href="#ms" x="880" y="280"/></g><g><polyline points="110.3,287.6 113.2,278 116,269.7 119.2,248.2 122.7,237.4 125.1,223.1 128.7,220.7 130.9,217.7 133.5,216 135.9,216.8 138.2,215.6 141.3,214.8 144.2,214.4 146.5,213.9 149,213.2 151.3,212.2 153.8,212 156.5,209.3 159.7,207.8 163.3,214.4 166.9,219.2 170.5,215.6 173.1,214 175.2,214.4 177.6,212.4 180,209.7 182.6,207.2 184.8,206.1 187.1,204.8 189.6,204.9 191.9,203.6 194.3,202.5 197,201.6 199.1,198.9 201.7,196.5 203.9,196.5 206,195.9 208.7,194.2 211.3,192.9 213.4,191.8 215.9,189.9 218.2,190.6 220.5,192.9 223,193 225.5,195.7 227.7,196.5 230.4,198.2 232.5,201.3 234.7,202.2 237.3,204.9 239.7,200.6 242.1,195.3 244.7,195.3 246.8,194.2 249.3,199.6 251.6,203.7 254,205.6 256.4,207.3 258.5,205.6 261.2,202.5 263.4,200 265.9,195.3 268.4,190 270.7,185.8 274.3,173.9 276.7,172.2 279.5,171.8 282,173.5 284.3,174.2 286.5,174.2 289.1,176.5 291.5,177.9 293.9,178.9 296.2,178.8 298.6,180.1 301.1,180 303.4,182.5 305.7,184.8 308.2,187.3 310.9,189.5 313,190.9 315.6,191.4 317.7,192 319.9,191.9 322.5,193.2 325.2,193.7 327.3,193.2 330.9,183.7 334.4,175.3 336.7,172.3 339.2,171.8 341.6,170.5 344,168.2 347.6,165.8 349.9,167.6 352.3,170.6 354.8,173.5 357.1,174.2 359.3,175.3 361.9,178.9 364.2,181.1 366.7,183.7 369.2,183.5 371.4,184.9 374,184.3 376.2,182.5 378.6,179.9 381,178.9 383.7,177.2 385.8,176.5 388.3,174.7 390.5,174.2 392.7,172.5 395.3,169.4 397.6,170 400.1,168.2 402.4,166.8 404.8,167 407,167.4 409.6,168.2 412.7,171.8 415.6,173 418.9,173.3 422.7,174.2 425.7,175.8 428.9,173.8 432.3,175.3 435.2,175 438.9,176.3 441.8,175.3 445.1,176.2 448.5,174.1 451.4,174.2 454.4,174.9 457.9,172.2 460.9,173 465,173 468.6,177.7 472.2,183.7 474.6,184.3 476.9,186.1 479.2,185.8 481.7,187.3 483.9,185.3 486.5,188.5 488.8,187.1 491.3,187.3 493.9,183.5 496,183.7 498.7,181.6 500.8,182.5 503.1,184.8 505.6,183.7 510,185 512.7,185.8 515.1,187.3 517.2,189 519.9,190.9 522.2,193.6 524.7,192 526.9,191.9 529.4,193.2 532,191.4 534.2,194.4 536.5,198.4 539,199.2 541.6,197.4 543.8,200.4 545.9,199.3 548.5,202.8 551.2,202.1 553.3,204 555.8,205.5 558.1,202.8 560.4,200.4 562.9,200.4 565.5,201.6 567.6,201.6 569.9,205.1 572.4,206.4 574.7,207 577.2,210 579.3,211.9 581.9,211.1 584.5,212.4 586.7,212.3 589.4,211.6 591.5,215.9 593.7,217 596.3,218.3 598.9,221.3 601,219.5 603.3,217.6 605.8,218.3 608.2,219.5 610.6,220.7 614.4,219.7 617.7,221.9 621.5,224.3 624.9,224.3 628.7,226.3 632.1,225.5 635.3,225.3 638.3,226.1 641.6,227.5 645,226 647.8,230.1 651.2,229.5 654,228.2 656.8,231.8 660,232.5 663.6,236.2 667.5,235 671.5,239.4 675,238.8 678.6,237.2 682.5,240 686,240.6 690,241.2 693.9,241.6 697.5,242.5 701.1,242.7 705,243.8 708.4,245.5 711.8,247.2 715,246.2 718.4,245.1 721.9,246.8 725,248.8 728.4,248.5 731.8,248 735,250 738.2,249.5 741.5,253.7 745,252.5 748.4,252 751.6,255.9 755,253.8 758.3,253.2 761.9,256.2 765,256.2 768.6,255 771.7,259.6 775,258.8 778.5,261.7 781.4,259.3 785,261.2 788.1,260.1 792,262.5 795,262.5 798.6,262.3 801.9,263.1 805,263.8 808.2,265.6 811.9,262.5 815,265 818.4,266 821.5,265.2 825,266.2 828.1,265.1 831.5,267.6 835,267.5 838.4,266.4 841.4,267.4 845,268.8 848.4,267.1 851.6,267.2 855,268.8 858.5,269.4 861.4,267.5 865,270 868.3,270.3 871.8,267.9 875,270 877.3,271 880,270" fill="none" stroke="#3274dc" stroke-width="1.5" stroke-linejoin="round"/><use href="#mb" x="110.3" y="287.6"/><use href="#mb" x="113.2" y="278"/><use href="#mb" x="116" y="269.7"/><use href="#mb" x="119.2" y="248.2"/><use href="#mb" x="122.7" y="237.4"/><use href="#mb" x="125.1" y="223.1"/><use href="#mb" x="128.7" y="220.7"/><use href="#mb" x="130.9" y="217.7"/><use href="#mb" x="133.5" y="216"/><use href="#mb" x="135.9" y="216.8"/><use href="#mb" x="138.2" y="215.6"/><use href="#mb" x="141.3" y="214.8"/><use href="#mb" x="144.2" y="214.4"/><use href="#mb" x="146.5" y="213.9"/><use href="#mb" x="149" y="213.2"/><use href="#mb" x="151.3" y="212.2"/><use href="#mb" x="153.8" y="212"/><use href="#mb" x="156.5" y="209.3"/><use href="#mb" x="159.7" y="207.8"/><use href="#mb" x="163.3" y="214.4"/><use href="#mb" x="166.9" y="219.2"/><use href="#mb" x="170.5" y="215.6"/><use href="#mb" x="173.1" y="214"/><use href="#mb" x="175.2" y="214.4"/><use href="#mb" x="177.6" y="212.4"/><use href="#mb" x="180" y="209.7"/><use href="#mb" x="182.6" y="207.2"/><use href="#mb" x="184.8" y="206.1"/><use href="#mb" x="187.1" y="204.8"/><use href="#mb" x="189.6" y="204.9"/><use href="#mb" x="191.9" y="203.6"/><use href="#mb" x="194.3" y="202.5"/><use href="#mb" x="197" y="201.6"/><use href="#mb" x="199.1" y="198.9"/><use href="#mb" x="201.7" y="196.5"/><use href="#mb" x="203.9" y="196.5"/><use href="#mb" x="206" y="195.9"/><use href="#mb" x="208.7" y="194.2"/><use href="#mb" x="211.3" y="192.9"/><use href="#mb" x="213.4" y="191.8"/><use href="#mb" x="215.9" y="189.9"/><use href="#mb" x="218.2" y="190.6"/><use href="#mb" x="220.5" y="192.9"/><use href="#mb" x="223" y="193"/><use href="#mb" x="225.5" y="195.7"/><use href="#mb" x="227.7" y="196.5"/><use href="#mb" x="230.4" y="198.2"/><use href="#mb" x="232.5" y="201.3"/><use href="#mb" x="234.7" y="202.2"/><use href="#mb" x="237.3" y="204.9"/><use href="#mb" x="239.7" y="200.6"/><use href="#mb" x="242.1" y="195.3"/><use href="#mb" x="244.7" y="195.3"/><use href="#mb" x="246.8" y="194.2"/><use href="#mb" x="249.3" y="199.6"/><use href="#mb" x="251.6" y="203.7"/><use href="#mb" x="254" y="205.6"/><use href="#mb" x="256.4" y="207.3"/><use href="#mb" x="258.5" y="205.6"/><use href="#mb" x="261.2" y="202.5"/><use href="#mb" x="263.4" y="200"/><use href="#mb" x="265.9" y="195.3"/><use href="#mb" x="268.4" y="190"/><use href="#mb" x="270.7" y="185.8"/><use href="#mb" x="274.3" y="173.9"/><use href="#mb" x="276.7" y="172.2"/><use href="#mb" x="279.5" y="171.8"/><use href="#mb" x="282" y="173.5"/><use href="#mb" x="284.3" y="174.2"/><use href="#mb" x="286.5" y="174.2"/><use href="#mb" x="289.1" y="176.5"/><use href="#mb" x="291.5" y="177.9"/><use href="#mb" x="293.9" y="178.9"/><use href="#mb" x="296.2" y="178.8"/><use href="#mb" x="298.6" y="180.1"/><use href="#mb" x="301.1" y="180"/><use href="#mb" x="303.4" y="182.5"/><use href="#mb" x="305.7" y="184.8"/><use href="#mb" x="308.2" y="187.3"/><use href="#mb" x="310.9" y="189.5"/><use href="#mb" x="313" y="190.9"/><use href="#mb" x="315.6" y="191.4"/><use href="#mb" x="317.7" y="192"/><use href="#mb" x="319.9" y="191.9"/><use href="#mb" x="322.5" y="193.2"/><use href="#mb" x="325.2" y="193.7"/><use href="#mb" x="327.3" y="193.2"/><use href="#mb" x="330.9" y="183.7"/><use href="#mb" x="334.4" y="175.3"/><use href="#mb" x="336.7" y="172.3"/><use href="#mb" x="339.2" y="171.8"/><use href="#mb" x="341.6" y="170.5"/><use href="#mb" x="344" y="168.2"/><use href="#mb" x="347.6" y="165.8"/><use href="#mb" x="349.9" y="167.6"/><use href="#mb" x="352.3" y="170.6"/><use href="#mb" x="354.8" y="173.5"/><use href="#mb" x="357.1" y="174.2"/><use href="#mb" x="359.3" y="175.3"/><use href="#mb" x="361.9" y="178.9"/><use href="#mb" x="364.2" y="181.1"/><use href="#mb" x="366.7" y="183.7"/><use href="#mb" x="369.2" y="183.5"/><use href="#mb" x="371.4" y="184.9"/><use href="#mb" x="374" y="184.3"/><use href="#mb" x="376.2" y="182.5"/><use href="#mb" x="378.6" y="179.9"/><use href="#mb" x="381" y="178.9"/><use href="#mb" x="383.7" y="177.2"/><use href="#mb" x="385.8" y="176.5"/><use href="#mb" x="388.3" y="174.7"/><use href="#mb" x="390.5" y="174.2"/><use href="#mb" x="392.7" y="172.5"/><use href="#mb" x="395.3" y="169.4"/><use href="#mb" x="397.6" y="170"/><use href="#mb" x="400.1" y="168.2"/><use href="#mb" x="402.4" y="166.8"/><use href="#mb" x="404.8" y="167"/><use href="#mb" x="407" y="167.4"/><use href="#mb" x="409.6" y="168.2"/><use href="#mb" x="412.7" y="171.8"/><use href="#mb" x="415.6" y="173"/><use href="#mb" x="418.9" y="173.3"/><use href="#mb" x="422.7" y="174.2"/><use href="#mb" x="425.7" y="175.8"/><use href="#mb" x="428.9" y="173.8"/><use href="#mb" x="432.3" y="175.3"/><use href="#mb" x="435.2" y="175"/><use href="#mb" x="438.9" y="176.3"/><use href="#mb" x="441.8" y="175.3"/><use href="#mb" x="445.1" y="176.2"/><use href="#mb" x="448.5" y="174.1"/><use href="#mb" x="451.4" y="174.2"/><use href="#mb" x="454.4" y="174.9"/><use href="#mb" x="457.9" y="172.2"/><use href="#mb" x="460.9" y="173"/><use href="#mb" x="465" y="173"/><use href="#mb" x="468.6" y="177.7"/><use href="#mb" x="472.2" y="183.7"/><use href="#mb" x="474.6" y="184.3"/><use href="#mb" x="476.9" y="186.1"/><use href="#mb" x="479.2" y="185.8"/><use href="#mb" x="481.7" y="187.3"/><use href="#mb" x="483.9" y="185.3"/><use href="#mb" x="486.5" y="188.5"/><use href="#mb" x="488.8" y="187.1"/><use href="#mb" x="491.3" y="187.3"/><use href="#mb" x="493.9" y="183.5"/><use href="#mb" x="496" y="183.7"/><use href="#mb" x="498.7" y="181.6"/><use href="#mb" x="500.8" y="182.5"/><use href="#mb" x="503.1" y="184.8"/><use href="#mb" x="505.6" y="183.7"/><use href="#mb" x="510" y="185"/><use href="#mb" x="512.7" y="185.8"/><use href="#mb" x="515.1" y="187.3"/><use href="#mb" x="517.2" y="189"/><use href="#mb" x="519.9" y="190.9"/><use href="#mb" x="522.2" y="193.6"/><use href="#mb" x="524.7" y="192"/><use href="#mb" x="526.9" y="191.9"/><use href="#mb" x="529.4" y="193.2"/><use href="#mb" x="532" y="191.4"/><use href="#mb" x="534.2" y="194.4"/><use href="#mb" x="536.5" y="198.4"/><use href="#mb" x="539" y="199.2"/><use href="#mb" x="541.6" y="197.4"/><use href="#mb" x="543.8" y="200.4"/><use href="#mb" x="545.9" y="199.3"/><use href="#mb" x="548.5" y="202.8"/><use href="#mb" x="551.2" y="202.1"/><use href="#mb" x="553.3" y="204"/><use href="#mb" x="555.8" y="205.5"/><use href="#mb" x="558.1" y="202.8"/><use href="#mb" x="560.4" y="200.4"/><use href="#mb" x="562.9" y="200.4"/><use href="#mb" x="565.5" y="201.6"/><use href="#mb" x="567.6" y="201.6"/><use href="#mb" x="569.9" y="205.1"/><use href="#mb" x="572.4" y="206.4"/><use href="#mb" x="574.7" y="207"/><use href="#mb" x="577.2" y="210"/><use href="#mb" x="579.3" y="211.9"/><use href="#mb" x="581.9" y="211.1"/><use href="#mb" x="584.5" y="212.4"/><use href="#mb" x="586.7" y="212.3"/><use href="#mb" x="589.4" y="211.6"/><use href="#mb" x="591.5" y="215.9"/><use href="#mb" x="593.7" y="217"/><use href="#mb" x="596.3" y="218.3"/><use href="#mb" x="598.9" y="221.3"/><use href="#mb" x="601" y="219.5"/><use href="#mb" x="603.3" y="217.6"/><use href="#mb" x="605.8" y="218.3"/><use href="#mb" x="608.2" y="219.5"/><use href="#mb" x="610.6" y="220.7"/><use href="#mb" x="614.4" y="219.7"/><use href="#mb" x="617.7" y="221.9"/><use href="#mb" x="621.5" y="224.3"/><use href="#mb" x="624.9" y="224.3"/><use href="#mb" x="628.7" y="226.3"/><use href="#mb" x="632.1" y="225.5"/><use href="#mb" x="635.3" y="225.3"/><use href="#mb" x="638.3" y="226.1"/><use href="#mb" x="641.6" y="227.5"/><use href="#mb" x="645" y="226"/><use href="#mb" x="647.8" y="230.1"/><use href="#mb" x="651.2" y="229.5"/><use href="#mb" x="654" y="228.2"/><use href="#mb" x="656.8" y="231.8"/><use href="#mb" x="660" y="232.5"/><use href="#mb" x="663.6" y="236.2"/><use href="#mb" x="667.5" y="235"/><use href="#mb" x="671.5" y="239.4"/><use href="#mb" x="675" y="238.8"/><use href="#mb" x="678.6" y="237.2"/><use href="#mb" x="682.5" y="240"/><use href="#mb" x="686" y="240.6"/><use href="#mb" x="690" y="241.2"/><use href="#mb" x="693.9" y="241.6"/><use href="#mb" x="697.5" y="242.5"/><use href="#mb" x="701.1" y="242.7"/><use href="#mb" x="705" y="243.8"/><use href="#mb" x="708.4" y="245.5"/><use href="#mb" x="711.8" y="247.2"/><use href="#mb" x="715" y="246.2"/><use href="#mb" x="718.4" y="245.1"/><use href="#mb" x="721.9" y="246.8"/><use href="#mb" x="725" y="248.8"/><use href="#mb" x="728.4" y="248.5"/><use href="#mb" x="731.8" y="248"/><use href="#mb" x="735" y="250"/><use href="#mb" x="738.2" y="249.5"/><use href="#mb" x="741.5" y="253.7"/><use href="#mb" x="745" y="252.5"/><use href="#mb" x="748.4" y="252"/><use href="#mb" x="751.6" y="255.9"/><use href="#mb" x="755" y="253.8"/><use href="#mb" x="758.3" y="253.2"/><use href="#mb" x="761.9" y="256.2"/><use href="#mb" x="765" y="256.2"/><use href="#mb" x="768.6" y="255"/><use href="#mb" x="771.7" y="259.6"/><use href="#mb" x="775" y="258.8"/><use href="#mb" x="778.5" y="261.7"/><use href="#mb" x="781.4" y="259.3"/><use href="#mb" x="785" y="261.2"/><use href="#mb" x="788.1" y="260.1"/><use href="#mb" x="792" y="262.5"/><use href="#mb" x="795" y="262.5"/><use href="#mb" x="798.6" y="262.3"/><use href="#mb" x="801.9" y="263.1"/><use href="#mb" x="805" y="263.8"/><use href="#mb" x="808.2" y="265.6"/><use href="#mb" x="811.9" y="262.5"/><use href="#mb" x="815" y="265"/><use href="#mb" x="818.4" y="266"/><use href="#mb" x="821.5" y="265.2"/><use href="#mb" x="825" y="266.2"/><use href="#mb" x="828.1" y="265.1"/><use href="#mb" x="831.5" y="267.6"/><use href="#mb" x="835" y="267.5"/><use href="#mb" x="838.4" y="266.4"/><use href="#mb" x="841.4" y="267.4"/><use href="#mb" x="845" y="268.8"/><use href="#mb" x="848.4" y="267.1"/><use href="#mb" x="851.6" y="267.2"/><use href="#mb" x="855" y="268.8"/><use href="#mb" x="858.5" y="269.4"/><use href="#mb" x="861.4" y="267.5"/><use href="#mb" x="865" y="270"/><use href="#mb" x="868.3" y="270.3"/><use href="#mb" x="871.8" y="267.9"/><use href="#mb" x="875" y="270"/><use href="#mb" x="877.3" y="271"/><use href="#mb" x="880" y="270"/></g><g><polyline points="79.8,91.3 82.6,98 85,117.5 88.8,119.9 91.2,144.5 95.3,145.7 97.7,153 100.8,165.5 104.8,166.7 108.4,171.5 110.8,173.9 113.2,187.7 114.4,189 116.5,191.6 117.6,161.6 121.3,149 125.1,137 128.2,126.6 131.6,115 134.7,83.2 138.2,83.2 141.3,72.9 144.2,68.1 147.3,71.2 150.9,76 153.8,80 156.9,87.2 159,96.8 162.8,99.2 166.2,112.3 169.3,119.9 172.4,139 176,163.7 178.4,173.2 180.7,181.6 183.1,192.3 185.5,199.5 187.9,201.9 191.5,184 193.9,141 196.5,121 199.6,111.1 202.7,92 205.1,83.2 208.7,83.2 211.5,78.9 215.3,88.4 217.7,75.3 219.4,71.7 221.8,70.5 224.9,74.1 227.7,77 231.3,76.5 234.4,77 237.3,82.4 240.9,99.2 243.3,112.3 246.4,125 248.8,143.4 252.3,154.2 254.7,160.1 257.8,170.9 260.2,173.2 261.9,181.6 265.5,173.2 267.9,167.3 270.4,161.7 273.1,156 274.8,149.3 276.7,112.3 280,107 283.1,100.3 285.5,84.8 289.1,82.4 292.7,83.2 295.1,71.7 298.6,68.1 302.2,69.3 305.8,69.3 307.7,77.7 310.6,82.4 314.2,90.8 317.3,110.4 320.1,116.6 324.4,123 326.4,144.4 330.9,146.9 332.5,156.3 335.6,159.8 339.2,165.3 342.8,161 345.9,153.9 348.8,145.6 352.3,125.4 354.7,102.7 358.3,88.4 360.7,84.8 364.3,73.6 366.7,68.1 369.8,69.3 373.1,70.5 376.2,75.3 379.8,80.1 382.6,90.8 385.8,102.3 388.9,117 392.2,126.6 394.6,133.7 398.4,137.8 400.8,147.4 403.7,151.6 407.9,157.4 411.3,153.9 414.4,149.1 418,144.3 419.9,139.7 422.7,112.3 426.3,102.7 428.7,93.2 431.8,82.4 435.2,79.3 438.3,82.4 441.8,83.6 445.4,83.6 447.8,88.4 450.2,116.6 453.8,131.4 457.8,112.3 460.9,131.4 463.3,143.3 466.9,144.5 468.6,146.2 472.2,149.8 475.7,153.9 479.3,152.7 482.9,151.5 485.3,139 488.4,133.8 491.3,116.6 494.8,121.8 497.9,107 500.8,114.7 503.2,107.5 506.8,103.9 509.9,115.9 512.7,121.8 515.6,126.6 518.7,136.1 522.3,135 524.7,158.6 527.5,152.7 531.8,153.9 535.4,156.3 539,163.4 541.4,200.4 545,200.4 547.3,158.6 549.7,151 552.8,144.4 556.9,145.6 560,149.2 562.6,136.6 566.4,136.4 568.8,149.2 572.4,148 576,151 579.1,152.7 581.9,155.1 584.3,164.6 587.2,171.8 590.3,176.5 593.9,173 597.5,174.2 601,175.3 604.6,170.6 608.2,169.4 611.8,167 615.4,165.8 618.9,169.4 622.5,168.2 625.4,171.8 628.5,176.5 632.1,178.9 634.9,180.1 636.8,190.9 640.4,188.5 643.5,192 646.4,196.8 650,193.2 653.5,192 657.1,193.2 660.7,190.9 665,188.8 667.4,189.7 670,191.2 673.8,193.8 677.5,197.5 680,202.5 683.8,199.5 686.2,208.8 690,205 693.8,211.2 697.5,211.2 701.2,212.5 705,210 708.8,215 712.5,217.5 716.2,215 720,213.8 723.8,216.2 727.5,213.8 731.2,215 735,218.8 738.8,220 742.5,221.2 746.2,223.8 748.8,230 752.5,226.2 756.2,226.2 760,231.2 763.8,232.5 767.5,228.8 771.2,228.8 775,231.2 778.8,231.2 782.5,233.8 786.2,233.8 790,235 793.8,236.2 797.5,237.5 800,242.5 802.7,242.2 805,238.8 807.4,238.4 810,240 812.6,239.1 815,240 817.2,241.9 820,241.2 822.5,244.8 825,246.2 827.4,248.1 830,247.5 832.5,245.2 835,245 837.2,245.8 840,246.2 842.6,248.8 845,248.8 848.8,253.8 852.5,250 854.8,251 857.5,251.2 861.2,248.8 865,250 868.8,255 872.5,253.8 876.2,255 879.5,252.5" fill="none" stroke="#1e2225" stroke-width="1.6" stroke-linejoin="round"/><use href="#mu" x="79.8" y="91.3"/><use href="#mu" x="82.6" y="98"/><use href="#mu" x="85" y="117.5"/><use href="#mu" x="88.8" y="119.9"/><use href="#mu" x="91.2" y="144.5"/><use href="#mu" x="95.3" y="145.7"/><use href="#mu" x="97.7" y="153"/><use href="#mu" x="100.8" y="165.5"/><use href="#mu" x="104.8" y="166.7"/><use href="#mu" x="108.4" y="171.5"/><use href="#mu" x="110.8" y="173.9"/><use href="#mu" x="113.2" y="187.7"/><use href="#mu" x="114.4" y="189"/><use href="#mu" x="116.5" y="191.6"/><use href="#mu" x="117.6" y="161.6"/><use href="#mu" x="121.3" y="149"/><use href="#mu" x="125.1" y="137"/><use href="#mu" x="128.2" y="126.6"/><use href="#mu" x="131.6" y="115"/><use href="#mu" x="134.7" y="83.2"/><use href="#mu" x="138.2" y="83.2"/><use href="#mu" x="141.3" y="72.9"/><use href="#mu" x="144.2" y="68.1"/><use href="#mu" x="147.3" y="71.2"/><use href="#mu" x="150.9" y="76"/><use href="#mu" x="153.8" y="80"/><use href="#mu" x="156.9" y="87.2"/><use href="#mu" x="159" y="96.8"/><use href="#mu" x="162.8" y="99.2"/><use href="#mu" x="166.2" y="112.3"/><use href="#mu" x="169.3" y="119.9"/><use href="#mu" x="172.4" y="139"/><use href="#mu" x="176" y="163.7"/><use href="#mu" x="178.4" y="173.2"/><use href="#mu" x="180.7" y="181.6"/><use href="#mu" x="183.1" y="192.3"/><use href="#mu" x="185.5" y="199.5"/><use href="#mu" x="187.9" y="201.9"/><use href="#mu" x="191.5" y="184"/><use href="#mu" x="193.9" y="141"/><use href="#mu" x="196.5" y="121"/><use href="#mu" x="199.6" y="111.1"/><use href="#mu" x="202.7" y="92"/><use href="#mu" x="205.1" y="83.2"/><use href="#mu" x="208.7" y="83.2"/><use href="#mu" x="211.5" y="78.9"/><use href="#mu" x="215.3" y="88.4"/><use href="#mu" x="217.7" y="75.3"/><use href="#mu" x="219.4" y="71.7"/><use href="#mu" x="221.8" y="70.5"/><use href="#mu" x="224.9" y="74.1"/><use href="#mu" x="227.7" y="77"/><use href="#mu" x="231.3" y="76.5"/><use href="#mu" x="234.4" y="77"/><use href="#mu" x="237.3" y="82.4"/><use href="#mu" x="240.9" y="99.2"/><use href="#mu" x="243.3" y="112.3"/><use href="#mu" x="246.4" y="125"/><use href="#mu" x="248.8" y="143.4"/><use href="#mu" x="252.3" y="154.2"/><use href="#mu" x="254.7" y="160.1"/><use href="#mu" x="257.8" y="170.9"/><use href="#mu" x="260.2" y="173.2"/><use href="#mu" x="261.9" y="181.6"/><use href="#mu" x="265.5" y="173.2"/><use href="#mu" x="267.9" y="167.3"/><use href="#mu" x="270.4" y="161.7"/><use href="#mu" x="273.1" y="156"/><use href="#mu" x="274.8" y="149.3"/><use href="#mu" x="276.7" y="112.3"/><use href="#mu" x="280" y="107"/><use href="#mu" x="283.1" y="100.3"/><use href="#mu" x="285.5" y="84.8"/><use href="#mu" x="289.1" y="82.4"/><use href="#mu" x="292.7" y="83.2"/><use href="#mu" x="295.1" y="71.7"/><use href="#mu" x="298.6" y="68.1"/><use href="#mu" x="302.2" y="69.3"/><use href="#mu" x="305.8" y="69.3"/><use href="#mu" x="307.7" y="77.7"/><use href="#mu" x="310.6" y="82.4"/><use href="#mu" x="314.2" y="90.8"/><use href="#mu" x="317.3" y="110.4"/><use href="#mu" x="320.1" y="116.6"/><use href="#mu" x="324.4" y="123"/><use href="#mu" x="326.4" y="144.4"/><use href="#mu" x="330.9" y="146.9"/><use href="#mu" x="332.5" y="156.3"/><use href="#mu" x="335.6" y="159.8"/><use href="#mu" x="339.2" y="165.3"/><use href="#mu" x="342.8" y="161"/><use href="#mu" x="345.9" y="153.9"/><use href="#mu" x="348.8" y="145.6"/><use href="#mu" x="352.3" y="125.4"/><use href="#mu" x="354.7" y="102.7"/><use href="#mu" x="358.3" y="88.4"/><use href="#mu" x="360.7" y="84.8"/><use href="#mu" x="364.3" y="73.6"/><use href="#mu" x="366.7" y="68.1"/><use href="#mu" x="369.8" y="69.3"/><use href="#mu" x="373.1" y="70.5"/><use href="#mu" x="376.2" y="75.3"/><use href="#mu" x="379.8" y="80.1"/><use href="#mu" x="382.6" y="90.8"/><use href="#mu" x="385.8" y="102.3"/><use href="#mu" x="388.9" y="117"/><use href="#mu" x="392.2" y="126.6"/><use href="#mu" x="394.6" y="133.7"/><use href="#mu" x="398.4" y="137.8"/><use href="#mu" x="400.8" y="147.4"/><use href="#mu" x="403.7" y="151.6"/><use href="#mu" x="407.9" y="157.4"/><use href="#mu" x="411.3" y="153.9"/><use href="#mu" x="414.4" y="149.1"/><use href="#mu" x="418" y="144.3"/><use href="#mu" x="419.9" y="139.7"/><use href="#mu" x="422.7" y="112.3"/><use href="#mu" x="426.3" y="102.7"/><use href="#mu" x="428.7" y="93.2"/><use href="#mu" x="431.8" y="82.4"/><use href="#mu" x="435.2" y="79.3"/><use href="#mu" x="438.3" y="82.4"/><use href="#mu" x="441.8" y="83.6"/><use href="#mu" x="445.4" y="83.6"/><use href="#mu" x="447.8" y="88.4"/><use href="#mu" x="450.2" y="116.6"/><use href="#mu" x="453.8" y="131.4"/><use href="#mu" x="457.8" y="112.3"/><use href="#mu" x="460.9" y="131.4"/><use href="#mu" x="463.3" y="143.3"/><use href="#mu" x="466.9" y="144.5"/><use href="#mu" x="468.6" y="146.2"/><use href="#mu" x="472.2" y="149.8"/><use href="#mu" x="475.7" y="153.9"/><use href="#mu" x="479.3" y="152.7"/><use href="#mu" x="482.9" y="151.5"/><use href="#mu" x="485.3" y="139"/><use href="#mu" x="488.4" y="133.8"/><use href="#mu" x="491.3" y="116.6"/><use href="#mu" x="494.8" y="121.8"/><use href="#mu" x="497.9" y="107"/><use href="#mu" x="500.8" y="114.7"/><use href="#mu" x="503.2" y="107.5"/><use href="#mu" x="506.8" y="103.9"/><use href="#mu" x="509.9" y="115.9"/><use href="#mu" x="512.7" y="121.8"/><use href="#mu" x="515.6" y="126.6"/><use href="#mu" x="518.7" y="136.1"/><use href="#mu" x="522.3" y="135"/><use href="#mu" x="524.7" y="158.6"/><use href="#mu" x="527.5" y="152.7"/><use href="#mu" x="531.8" y="153.9"/><use href="#mu" x="535.4" y="156.3"/><use href="#mu" x="539" y="163.4"/><use href="#mu" x="541.4" y="200.4"/><use href="#mu" x="545" y="200.4"/><use href="#mu" x="547.3" y="158.6"/><use href="#mu" x="549.7" y="151"/><use href="#mu" x="552.8" y="144.4"/><use href="#mu" x="556.9" y="145.6"/><use href="#mu" x="560" y="149.2"/><use href="#mu" x="562.6" y="136.6"/><use href="#mu" x="566.4" y="136.4"/><use href="#mu" x="568.8" y="149.2"/><use href="#mu" x="572.4" y="148"/><use href="#mu" x="576" y="151"/><use href="#mu" x="579.1" y="152.7"/><use href="#mu" x="581.9" y="155.1"/><use href="#mu" x="584.3" y="164.6"/><use href="#mu" x="587.2" y="171.8"/><use href="#mu" x="590.3" y="176.5"/><use href="#mu" x="593.9" y="173"/><use href="#mu" x="597.5" y="174.2"/><use href="#mu" x="601" y="175.3"/><use href="#mu" x="604.6" y="170.6"/><use href="#mu" x="608.2" y="169.4"/><use href="#mu" x="611.8" y="167"/><use href="#mu" x="615.4" y="165.8"/><use href="#mu" x="618.9" y="169.4"/><use href="#mu" x="622.5" y="168.2"/><use href="#mu" x="625.4" y="171.8"/><use href="#mu" x="628.5" y="176.5"/><use href="#mu" x="632.1" y="178.9"/><use href="#mu" x="634.9" y="180.1"/><use href="#mu" x="636.8" y="190.9"/><use href="#mu" x="640.4" y="188.5"/><use href="#mu" x="643.5" y="192"/><use href="#mu" x="646.4" y="196.8"/><use href="#mu" x="650" y="193.2"/><use href="#mu" x="653.5" y="192"/><use href="#mu" x="657.1" y="193.2"/><use href="#mu" x="660.7" y="190.9"/><use href="#mu" x="665" y="188.8"/><use href="#mu" x="667.4" y="189.7"/><use href="#mu" x="670" y="191.2"/><use href="#mu" x="673.8" y="193.8"/><use href="#mu" x="677.5" y="197.5"/><use href="#mu" x="680" y="202.5"/><use href="#mu" x="683.8" y="199.5"/><use href="#mu" x="686.2" y="208.8"/><use href="#mu" x="690" y="205"/><use href="#mu" x="693.8" y="211.2"/><use href="#mu" x="697.5" y="211.2"/><use href="#mu" x="701.2" y="212.5"/><use href="#mu" x="705" y="210"/><use href="#mu" x="708.8" y="215"/><use href="#mu" x="712.5" y="217.5"/><use href="#mu" x="716.2" y="215"/><use href="#mu" x="720" y="213.8"/><use href="#mu" x="723.8" y="216.2"/><use href="#mu" x="727.5" y="213.8"/><use href="#mu" x="731.2" y="215"/><use href="#mu" x="735" y="218.8"/><use href="#mu" x="738.8" y="220"/><use href="#mu" x="742.5" y="221.2"/><use href="#mu" x="746.2" y="223.8"/><use href="#mu" x="748.8" y="230"/><use href="#mu" x="752.5" y="226.2"/><use href="#mu" x="756.2" y="226.2"/><use href="#mu" x="760" y="231.2"/><use href="#mu" x="763.8" y="232.5"/><use href="#mu" x="767.5" y="228.8"/><use href="#mu" x="771.2" y="228.8"/><use href="#mu" x="775" y="231.2"/><use href="#mu" x="778.8" y="231.2"/><use href="#mu" x="782.5" y="233.8"/><use href="#mu" x="786.2" y="233.8"/><use href="#mu" x="790" y="235"/><use href="#mu" x="793.8" y="236.2"/><use href="#mu" x="797.5" y="237.5"/><use href="#mu" x="800" y="242.5"/><use href="#mu" x="802.7" y="242.2"/><use href="#mu" x="805" y="238.8"/><use href="#mu" x="807.4" y="238.4"/><use href="#mu" x="810" y="240"/><use href="#mu" x="812.6" y="239.1"/><use href="#mu" x="815" y="240"/><use href="#mu" x="817.2" y="241.9"/><use href="#mu" x="820" y="241.2"/><use href="#mu" x="822.5" y="244.8"/><use href="#mu" x="825" y="246.2"/><use href="#mu" x="827.4" y="248.1"/><use href="#mu" x="830" y="247.5"/><use href="#mu" x="832.5" y="245.2"/><use href="#mu" x="835" y="245"/><use href="#mu" x="837.2" y="245.8"/><use href="#mu" x="840" y="246.2"/><use href="#mu" x="842.6" y="248.8"/><use href="#mu" x="845" y="248.8"/><use href="#mu" x="848.8" y="253.8"/><use href="#mu" x="852.5" y="250"/><use href="#mu" x="854.8" y="251"/><use href="#mu" x="857.5" y="251.2"/><use href="#mu" x="861.2" y="248.8"/><use href="#mu" x="865" y="250"/><use href="#mu" x="868.8" y="255"/><use href="#mu" x="872.5" y="253.8"/><use href="#mu" x="876.2" y="255"/><use href="#mu" x="879.5" y="252.5"/></g></g>
<g><rect x="666" y="14" width="217" height="130.5" fill="#fff" stroke="#111" stroke-width="2"/><line x1="677" y1="27.2" x2="722.5" y2="27.2" stroke="#d0101f" stroke-width="1.9"/><circle cx="699.2" cy="27.2" r="4.6" fill="#f5070b"/><line x1="677" y1="53.4" x2="722.5" y2="53.4" stroke="#1f4512" stroke-width="1.3"/><use href="#mg" x="699.2" y="53.4"/><line x1="677" y1="79.6" x2="722.5" y2="79.6" stroke="#1e2124" stroke-width="1.4"/><use href="#ms" x="699.2" y="79.6"/><line x1="677" y1="105.8" x2="722.5" y2="105.8" stroke="#4767b8" stroke-width="1.6"/><use href="#mb" x="699.2" y="105.8"/><line x1="677" y1="132.0" x2="722.5" y2="132.0" stroke="#1e2124" stroke-width="1.3"/><circle cx="699.2" cy="132.0" r="3.8" fill="none" stroke="#1e2225" stroke-width="1.5"/><g font-family="Liberation Sans, Arial, sans-serif" font-size="21.5" fill="#2b3133"><text x="726.5" y="33.8">PL tab at 0.0D</text><text x="726.5" y="60">PL tab at 0.25D</text><text x="726.5" y="86.2">PL tab at 0.5D</text><text x="726.5" y="112.4">PL tab at 0.75D</text><text x="726.5" y="138.6">Uncontrolled</text></g></g>
<g font-family="Liberation Sans, Arial, sans-serif" font-size="21.5" fill="#000" stroke="#000" stroke-width="0.35" text-anchor="end"><text x="61" y="18.8">1</text><text x="62" y="86.2">0.8</text><text x="62" y="153.6">0.6</text><text x="62" y="221">0.4</text><text x="62" y="288.4">0.2</text><text x="62" y="355.8">0</text></g>
<g font-family="Liberation Sans, Arial, sans-serif" font-size="21.5" fill="#000" stroke="#000" stroke-width="0.35" text-anchor="middle"><text x="80" y="380.7">0</text><text x="281" y="380.7">5</text><text x="482.5" y="380.7">10</text><text x="684" y="380.7">15</text><text x="885.5" y="380.7">20</text></g>
<text x="482" y="413.3" stroke="#000" stroke-width="0.3" font-family="Liberation Serif, Times New Roman, serif" font-style="italic" font-size="24" text-anchor="middle">x/D</text>
<g transform="translate(20,183) rotate(-90)" font-family="Liberation Serif, Times New Roman, serif" font-style="italic" fill="#000" stroke="#000" stroke-width="0.3">
<text x="-30" y="0" font-size="23.5">p</text>
<text x="-17.6" y="4.6" font-size="17.5" letter-spacing="1.2">ot</text>
<text x="-1.5" y="0" font-size="22" transform="skewX(-6)">/</text>
<text x="6.9" y="0" font-size="23.5">p</text>
<text x="18.8" y="4.6" font-size="17.5" letter-spacing="1.2">oi</text>
</g>
</svg>
</body></html>
